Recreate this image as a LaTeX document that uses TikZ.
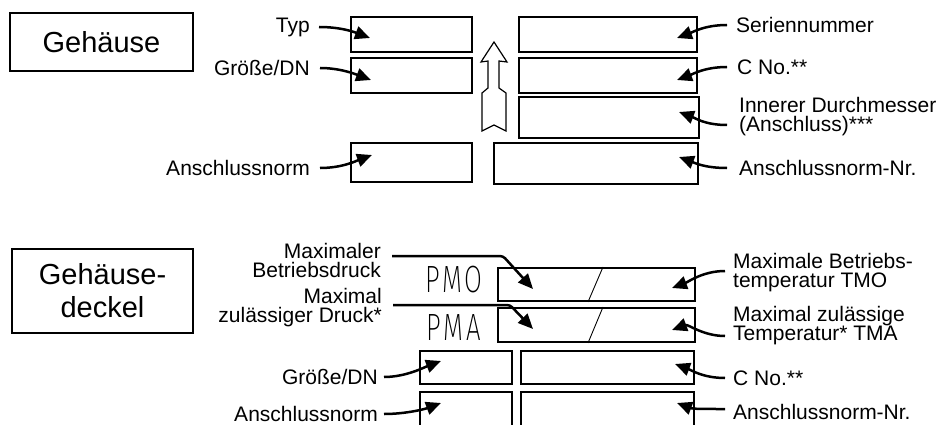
\documentclass[tikz,border=0pt]{standalone}
\usepackage{fontspec}
\setmainfont{Liberation Sans}
\newfontfamily\thinfont{Fira Sans ExtraLight}[LetterSpace=12]
\usetikzlibrary{arrows.meta}
\begin{document}
\begin{tikzpicture}[x=1pt,y=-1pt,
  box/.style={draw, line width=2pt, inner sep=0pt},
  lbl/.style={inner sep=0pt, font=\fontsize{21}{19}\selectfont},
  bigl/.style={inner sep=0pt, align=center, font=\fontsize{29}{33}\selectfont},
  pm/.style={inner sep=0pt, font=\thinfont\fontsize{38}{38}\selectfont, xscale=0.68},
  ptr/.style={line width=2.5pt, -{Triangle[length=15pt,width=13pt]}},
  slash/.style={line width=0.9pt},
  hollow/.style={draw, line width=1.2pt, fill=white}]
\useasboundingbox (0,0) rectangle (942,425);
\clip (0,0) rectangle (942,425);

% ---------------- Gehaeuse ----------------
\node[box, minimum width=183pt, minimum height=58pt] (gh) at (101.5,42) {};
\node[bigl] (ghT) at (gh.center) {Gehäuse};

\node[box, minimum width=121pt, minimum height=35pt] (bTyp) at (411.5,34.5) {};
\node[box, minimum width=121pt, minimum height=35pt] (bGr) at (411.5,75.5) {};
\node[box, minimum width=121pt, minimum height=39pt] (bAn) at (411.5,162.5) {};
\node[box, minimum width=178pt, minimum height=35pt] (bSer) at (608,34.5) {};
\node[box, minimum width=178pt, minimum height=35pt] (bCNo) at (608,75.5) {};
\node[box, minimum width=180pt, minimum height=41pt] (bInner) at (609,117.5) {};
\node[box, minimum width=204pt, minimum height=41pt] (bAnNr) at (596,163.5) {};

\draw[hollow] (494,42) -- (507,62) -- (499,61) -- (499,88) -- (506,93) -- (506,131)
  -- (494,125) -- (482,131) -- (482,93) -- (488,88) -- (488,61) -- (481,62) -- cycle;

\node[lbl, anchor=east] (lTyp) at (310,27) {Typ};
\node[lbl, anchor=east] (lGr) at (310,68) {Größe/DN};
\node[lbl, anchor=east] (lAn) at (310,168) {Anschlussnorm};
\node[lbl, anchor=west] (lSer) at (736,25) {Seriennummer};
\node[lbl, anchor=west] (lCNo) at (737,67) {C No.**};
\node[lbl, anchor=west, align=left] (lInner) at (739,117) {Innerer Durchmesser\\(Anschluss)***};
\node[lbl, anchor=west] (lAnNr) at (739,168) {Anschlussnorm-Nr.};

\coordinate (tTyp) at (370,38);
\coordinate (tGr) at (371,80);
\coordinate (tAn) at (372,155);
\coordinate (tSer) at (677,38);
\coordinate (tCNo) at (677,80);
\coordinate (tInner) at (679,112);
\coordinate (tAnNr) at (679,157);

\draw[ptr] ([xshift=9pt]lTyp.east) .. controls +(22,0) and +(-16,-6) .. (tTyp);
\draw[ptr] ([xshift=10pt]lGr.east) .. controls +(20,0) and +(-16,-6) .. (tGr);
\draw[ptr] ([xshift=10pt]lAn.east) .. controls +(22,0) and +(-16,6) .. (tAn);
\draw[ptr] ([xshift=-9pt]lSer.west) .. controls +(-22,0) and +(16,-6) .. (tSer);
\draw[ptr] ([xshift=-10pt]lCNo.west) .. controls +(-22,0) and +(16,-6) .. (tCNo);
\draw[ptr] ([xshift=-12pt,yshift=-8pt]lInner.west) .. controls +(-22,0) and +(16,6) .. (tInner);
\draw[ptr] ([xshift=-12pt]lAnNr.west) .. controls +(-22,0) and +(16,6) .. (tAnNr);

% ---------------- Gehaeusedeckel ----------------
\node[box, minimum width=181pt, minimum height=84pt] (gd) at (102.5,291) {};
\node[bigl] (gdT) at (gd.center) {Gehäuse-\\deckel};

\node[box, minimum width=197pt, minimum height=33pt] (bPMO) at (596.5,284.5) {};
\node[box, minimum width=197pt, minimum height=34pt] (bPMA) at (596.5,325) {};
\node[box, minimum width=92pt, minimum height=33pt] (bGr2) at (466,367.5) {};
\node[box, minimum width=173pt, minimum height=33pt] (bCNo2) at (607.5,367.5) {};
\node[box, minimum width=92pt, minimum height=48pt] (bAn2) at (466,416) {};
\node[box, minimum width=173pt, minimum height=48pt] (bAnNr2) at (607.5,416) {};

\draw[slash] ([xshift=6.5pt]bPMO.north) -- ([xshift=-8.5pt]bPMO.south);
\draw[slash] ([xshift=6.5pt]bPMA.north) -- ([xshift=-8.5pt]bPMA.south);

\node[pm] (pmo) at (454,280) {PMO};
\node[pm] (pma) at (454,327.5) {PMA};

\node[lbl, anchor=east, align=right] (lPMO) at (381,260) {Maximaler\\Betriebsdruck};
\node[lbl, anchor=east, align=right] (lPMA) at (382,308) {Maximal\\zulässiger Druck*};
\node[lbl, anchor=east] (lGr2) at (378,377) {Größe/DN};
\node[lbl, anchor=east] (lAn2) at (378,414) {Anschlussnorm};
\node[lbl, anchor=west, align=left] (lTMO) at (733,273) {Maximale Betriebs-\\temperatur TMO};
\node[lbl, anchor=west, align=left] (lTMA) at (733,326) {Maximal zulässige\\Temperatur* TMA};
\node[lbl, anchor=west] (lCNo2) at (733,378) {C No.**};
\node[lbl, anchor=west] (lAnNr2) at (733,412) {Anschlussnorm-Nr.};

\coordinate (tPMO) at (533,289);
\coordinate (tPMA) at (533,329);
\coordinate (tGr2) at (441,361);
\coordinate (tAn2) at (441,403);
\coordinate (tTMO) at (672,288);
\coordinate (tTMA) at (672,330);
\coordinate (tCNo2) at (675,364);
\coordinate (tAnNr2) at (677,403);

\draw[ptr, rounded corners=3pt] (392,256) -- (503,256) -- (tPMO);
\draw[ptr, rounded corners=3pt] (393,305) -- (510,305) -- (tPMA);
\draw[ptr] ([xshift=6pt]lGr2.east) .. controls +(22,0) and +(-16,6) .. (tGr2);
\draw[ptr] ([xshift=6pt]lAn2.east) .. controls +(22,0) and +(-16,6) .. (tAn2);
\draw[ptr] ([xshift=-8pt,yshift=2pt]lTMO.west) .. controls +(-22,0) and +(16,-6) .. (tTMO);
\draw[ptr] ([xshift=-8pt,yshift=-10pt]lTMA.west) .. controls +(-22,0) and +(16,-6) .. (tTMA);
\draw[ptr] ([xshift=-8pt]lCNo2.west) .. controls +(-22,0) and +(16,6) .. (tCNo2);
\draw[ptr] ([xshift=-8pt,yshift=3pt]lAnNr2.west) .. controls +(-22,0) and +(16,6) .. (tAnNr2);
\end{tikzpicture}
\end{document}
